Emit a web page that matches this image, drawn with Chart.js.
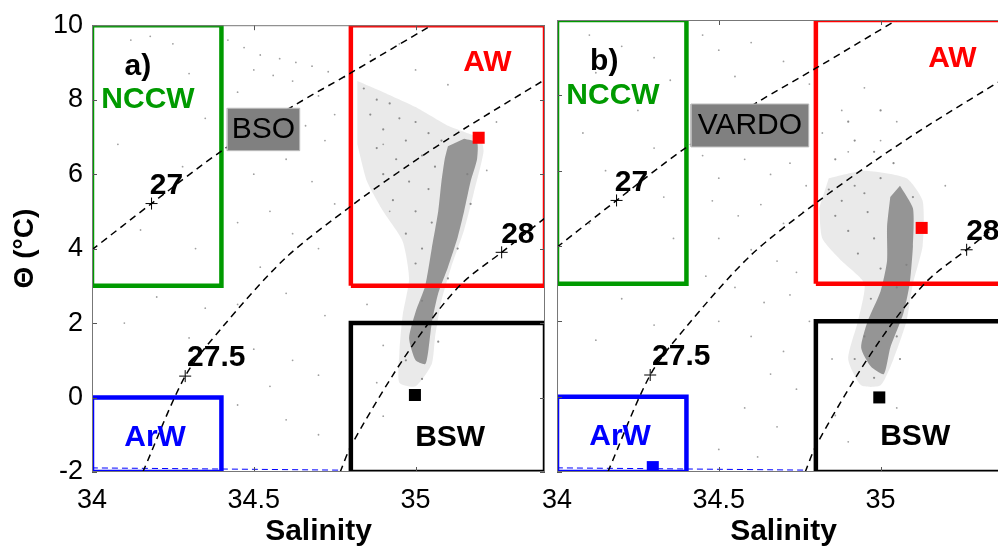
<!DOCTYPE html>
<html>
<head>
<meta charset="utf-8">
<title>Theta-S diagrams BSO / VARDO</title>
<script src="https://cdn.jsdelivr.net/npm/chart.js@4.4.4/dist/chart.umd.min.js"></script>
<style>
  html, body { margin: 0; padding: 0; background: #fff; overflow: hidden; }
  #wrap { position: relative; width: 998px; height: 552px; overflow: hidden; }
  canvas { position: absolute; top: 0; }
  #panelA { left: 0; }
  #panelB { left: 530px; }
</style>
</head>
<body>
<div id="wrap">
  <canvas id="panelA" width="560" height="552"></canvas>
  <canvas id="panelB" width="498" height="552"></canvas>
</div>
<script>
// axes
const xTicks = [34, 34.5, 35];
const yTicks = [-2, 0, 2, 4, 6, 8, 10];

// isopycnals (salinity, theta)
const sigma27 = [[34.0, 3.97], [34.184, 5.21], [34.40, 6.62], [34.62, 7.82], [34.80, 8.72], [35.05, 10.0]];
const sigma275 = [[34.157, -2.0], [34.288, 0.575], [34.40, 1.86], [34.596, 3.73], [34.80, 5.14], [34.98, 6.25], [35.145, 7.19], [35.40, 8.54]];
const sigma28 = [[34.767, -2.0], [34.80, -1.31], [34.926, 0.55], [35.036, 1.95], [35.145, 3.08], [35.266, 3.9], [35.40, 4.82]];
const sigmaMarks = [[34.184, 5.21], [34.288, 0.575], [35.266, 3.9]];
const freezeLine = [[34.0, -1.89], [34.4, -1.92], [34.77, -1.95]];

// water mass boxes: [Smin, Smax, Tmin, Tmax]
const boxNCCW = [34.0, 34.4, 3, 10];
const boxAW = [34.8, 35.4, 3, 10];
const boxBSW = [34.8, 35.4, -2, 2];
const boxArW = [34.0, 34.4, -2, 0];

// station name boxes
const stationBoxA = [34.418, 34.642, 6.63, 7.77];
const stationBoxB = [34.414, 34.778, 6.63, 7.77];

// water mass means
const redSqA = [[35.195, 6.98]];
const blackSqA = [[34.998, 0.07]];
const redSqB = [[35.127, 4.48]];
const blackSqB = [[34.996, -0.02]];
const blueSqB = [[34.296, -1.87]];

// observation cloud, panel a
const coreA = [[35.15, 6.95], [35.19, 6.85], [35.19, 6.4], [35.17, 5.8], [35.15, 5.0], [35.13, 4.3], [35.10, 3.5], [35.07, 2.8], [35.05, 2.0], [35.04, 1.3], [35.03, 0.9],
  [35.0, 1.0], [34.98, 1.6], [35.0, 2.3], [35.03, 3.0], [35.05, 4.0], [35.07, 5.0], [35.08, 5.8], [35.09, 6.4], [35.10, 6.75]];
const haloA = [[34.82, 8.5], [34.9, 8.2], [35.0, 7.8], [35.1, 7.3], [35.2, 6.95], [35.21, 6.6], [35.18, 5.5], [35.15, 4.5], [35.11, 3.5], [35.08, 2.6], [35.06, 1.6], [35.05, 0.9],
  [35.0, 0.3], [34.95, 0.4], [34.95, 1.2], [34.96, 2.2], [34.98, 3.2], [34.96, 4.2], [34.9, 5.0], [34.85, 5.8], [34.82, 6.8]];
const haloPtsA = [[34.84, 8.3], [34.88, 8.0], [34.92, 7.9], [34.86, 7.6], [34.95, 7.5], [34.9, 7.2], [35.0, 7.4], [35.04, 7.1], [34.97, 6.9], [35.08, 6.9],
  [34.88, 6.7], [34.94, 6.4], [35.02, 6.5], [35.06, 6.2], [34.9, 6.0], [34.98, 5.8], [35.04, 5.6], [34.93, 5.3], [35.0, 5.0], [35.05, 4.7],
  [34.97, 4.4], [35.02, 4.0], [35.0, 3.6], [34.99, 3.0], [35.02, 2.6], [34.98, 2.0], [35.07, 1.5], [34.97, 1.0], [35.02, 0.5], [35.16, 6.0],
  [35.17, 5.2], [35.13, 4.0], [35.1, 3.2]];
const sparseA = [[34.42, 9.6], [34.47, 9.4], [34.52, 9.2], [34.58, 9.1], [34.63, 9.0], [34.68, 8.9], [34.73, 8.75], [34.78, 8.6], [34.5, 8.8], [34.56, 8.65],
  [34.62, 8.5], [34.45, 8.2], [34.7, 8.1], [34.75, 7.6], [34.66, 7.3], [34.72, 6.9], [34.6, 6.4], [34.5, 6.0], [34.68, 5.8], [34.75, 5.2],
  [34.55, 5.0], [34.62, 4.4], [34.45, 4.7], [34.7, 4.0], [34.52, 3.5], [34.6, 2.8], [34.45, 2.5], [34.72, 2.2], [34.35, 2.4], [34.2, 2.7],
  [34.1, 2.0], [34.3, 1.6], [34.5, 1.3], [34.62, 1.0], [34.7, 0.6], [34.55, 0.3], [34.45, -0.2], [34.6, -0.6], [34.7, -1.0], [34.9, -0.5],
  [34.88, 0.4], [34.9, 1.4], [34.85, 2.5], [34.12, 9.6], [34.18, 9.7], [34.25, 9.5], [34.3, 8.7], [34.35, 7.5], [34.08, 6.8], [34.28, 6.2],
  [34.15, 4.5], [34.32, 4.0], [34.86, 9.2], [34.95, 9.5], [35.0, 8.8], [35.1, 8.4], [34.92, 5.0], [34.9, 6.8], [35.25, 7.4], [35.22, 6.1]];

// observation cloud, panel b
const coreB = [[35.06, 5.6], [35.10, 5.0], [35.10, 4.0], [35.09, 3.0], [35.07, 2.2], [35.03, 1.3], [35.01, 0.6],
  [34.97, 0.8], [34.94, 1.3], [34.96, 2.0], [35.0, 2.8], [35.02, 3.6], [35.02, 4.5], [35.03, 5.3]];
const haloB = [[34.84, 5.8], [34.95, 6.0], [35.08, 5.8], [35.13, 5.2], [35.13, 4.0], [35.1, 3.0], [35.08, 2.0], [35.04, 1.0], [35.0, 0.3],
  [34.94, 0.3], [34.9, 1.0], [34.93, 2.0], [34.95, 3.0], [34.88, 3.6], [34.82, 4.2], [34.81, 5.0]];
const haloPtsB = [[34.84, 5.5], [34.88, 5.2], [34.92, 5.6], [34.86, 4.8], [34.9, 4.4], [34.96, 4.9], [34.95, 5.4], [35.0, 5.8], [34.98, 4.2], [34.93, 3.8],
  [35.0, 3.4], [34.97, 2.6], [35.05, 2.9], [35.08, 3.5], [35.12, 4.6], [35.1, 5.3], [34.95, 1.6], [34.92, 1.0], [35.05, 1.6], [34.98, 0.5],
  [35.06, 1.0], [34.86, 6.3], [34.92, 6.8], [34.98, 6.5], [35.04, 6.2], [34.9, 7.3], [35.0, 7.6]];
const sparseB = [[34.1, 9.6], [34.2, 9.3], [34.3, 9.0], [34.12, 8.6], [34.35, 8.4], [34.25, 7.6], [34.08, 7.0], [34.3, 6.6], [34.15, 6.0], [34.33, 5.3],
  [34.1, 4.6], [34.36, 4.2], [34.45, 9.6], [34.5, 9.2], [34.6, 9.4], [34.7, 8.9], [34.55, 8.5], [34.78, 8.3], [34.45, 6.4], [34.5, 5.8],
  [34.58, 6.3], [34.66, 5.9], [34.72, 6.2], [34.77, 5.6], [34.48, 5.2], [34.56, 4.8], [34.63, 5.1], [34.7, 4.6], [34.76, 4.9], [34.5, 4.2],
  [34.6, 3.9], [34.68, 3.6], [34.74, 3.3], [34.46, 3.2], [34.55, 2.9], [34.64, 2.5], [34.72, 2.7], [34.78, 2.0], [34.5, 2.0], [34.6, 1.6],
  [34.7, 1.2], [34.66, 0.6], [34.74, 0.2], [34.58, -0.3], [34.68, -0.8], [34.5, -1.4], [34.62, -1.6], [34.2, 2.6], [34.12, 1.5], [34.3, 1.9],
  [34.82, 7.0], [34.88, 7.6], [34.95, 8.2], [34.9, 6.5], [35.0, 6.8], [35.05, 7.3], [34.85, 1.0], [34.86, -0.5], [34.9, -1.2], [35.05, -0.3],
  [35.2, 5.6], [35.16, 3.2]];

// text labels [S, theta, text, colour, bold]
const commonLabels = [
  [34.173, 8.0, 'NCCW', '#009a00', true],
  [35.222, 8.98, 'AW', '#ff0000', true],
  [34.23, 5.69, '27', '#000', true],
  [34.384, 1.07, '27.5', '#000', true],
  [35.316, 4.38, '28', '#000', true],
  [34.195, -1.07, 'ArW', '#0000ff', true],
  [35.107, -1.07, 'BSW', '#000', true]
];
const labelsA = [[34.142, 8.89, 'a)', '#000', true], [34.53, 7.2, 'BSO', '#000', false]].concat(commonLabels);
const labelsB = [[34.146, 8.89, 'b)', '#000', true], [34.596, 7.2, 'VARDO', '#000', false]].concat(commonLabels);

const FONT = '"Liberation Sans", Arial, sans-serif';

function pts(arr) { return arr.map(p => ({ x: p[0], y: p[1] })); }
function rect(b) { return pts([[b[0], b[2]], [b[1], b[2]], [b[1], b[3]], [b[0], b[3]], [b[0], b[2]]]); }

function lineSet(data, color, width, dash, order) {
  return { data: pts(data), showLine: true, borderColor: color, borderWidth: width, borderDash: dash || [],
    pointRadius: 0, fill: false, order: order, tension: 0.3 };
}
function boxSet(b, color, order) {
  return { data: rect(b), showLine: true, borderColor: color, borderWidth: 4.5, pointRadius: 0,
    fill: false, order: order, tension: 0, borderJoinStyle: 'miter' };
}
function shapeSet(data, fillColor, order) {
  return { data: pts(data), showLine: true, borderWidth: 0, borderColor: 'rgba(0,0,0,0)', backgroundColor: fillColor,
    pointRadius: 0, fill: 'shape', order: order, tension: 0.2 };
}
function dotSet(data, color, r, order) {
  return { data: pts(data), pointRadius: r, backgroundColor: color, borderWidth: 0, order: order };
}
function squareSet(data, color, order) {
  return { data: pts(data), pointStyle: 'rect', pointRadius: 8.5, backgroundColor: color, borderColor: color,
    borderWidth: 0, order: order };
}

function datasetsFor(core, halo, haloPts, sparse, stationBox, squares) {
  const sets = [
    shapeSet(halo, 'rgba(150,150,150,0.20)', 21),
    dotSet(haloPts, '#8c8c8c', 1.1, 20),
    shapeSet(core, 'rgba(128,128,128,0.80)', 19),
    dotSet(sparse, '#a0a0a0', 0.9, 18),
    lineSet(freezeLine, '#0000ff', 1, [6, 4], 15),
    boxSet(boxNCCW, '#009a00', 14),
    boxSet(boxAW, '#ff0000', 13),
    boxSet(boxBSW, '#000000', 12),
    boxSet(boxArW, '#0000ff', 11),
    lineSet(sigma27, '#000', 1.5, [7, 5], 9),
    lineSet(sigma275, '#000', 1.5, [7, 5], 8),
    lineSet(sigma28, '#000', 1.5, [7, 5], 7),
    { data: pts(sigmaMarks), pointStyle: 'cross', pointRadius: 6, borderColor: '#000', borderWidth: 1, order: 6 },
    { data: rect(stationBox), showLine: true, borderColor: '#bdbdbd', borderWidth: 1, backgroundColor: '#808080',
      pointRadius: 0, fill: 'shape', order: 5, tension: 0 }
  ];
  squares.forEach((s, i) => sets.push(squareSet(s[0], s[1], 2 + i)));
  return sets;
}

const framePlugin = {
  id: 'frame',
  afterDraw(chart) {
    const { ctx, chartArea: a, scales: { x, y } } = chart;
    ctx.save();
    ctx.strokeStyle = '#555';
    ctx.lineWidth = 1;
    ctx.beginPath();
    xTicks.forEach(v => {
      const px = Math.round(x.getPixelForValue(v)) + 0.5;
      ctx.moveTo(px, a.bottom); ctx.lineTo(px, a.bottom - 5);
      ctx.moveTo(px, a.top); ctx.lineTo(px, a.top + 5);
    });
    yTicks.forEach(v => {
      const py = Math.round(y.getPixelForValue(v)) + 0.5;
      ctx.moveTo(a.left, py); ctx.lineTo(a.left + 5, py);
      ctx.moveTo(a.right, py); ctx.lineTo(a.right - 5, py);
    });
    ctx.stroke();
    ctx.strokeStyle = '#777';
    ctx.strokeRect(a.left + 0.5, a.top + 0.5, a.width - 1, a.height - 1);

    const labels = chart.options.plugins.frame.labels || [];
    ctx.textAlign = 'center';
    ctx.textBaseline = 'middle';
    labels.forEach(l => {
      ctx.font = (l[4] ? 'bold ' : '') + '30px ' + FONT;
      ctx.fillStyle = l[3];
      ctx.fillText(l[2], x.getPixelForValue(l[0]), y.getPixelForValue(l[1]));
    });
    ctx.restore();
  }
};

function optionsFor(showY, labels, rightPad) {
  return {
    responsive: false,
    animation: false,
    events: [],
    layout: { padding: { top: 20, right: rightPad, bottom: 0, left: 0 } },
    plugins: { legend: { display: false }, tooltip: { enabled: false }, frame: { labels: labels } },
    scales: {
      x: {
        type: 'linear', min: 34, max: 35.4,
        afterBuildTicks: s => { s.ticks = xTicks.map(v => ({ value: v })); },
        afterFit: s => { s.height = 80; },
        grid: { display: false, drawTicks: false },
        border: { display: false },
        ticks: { color: '#000', font: { family: FONT, size: 27 }, padding: 12, maxRotation: 0, autoSkip: false,
          callback: v => String(v) },
        title: { display: true, text: 'Salinity', color: '#000', font: { family: FONT, size: 30, weight: 'bold' },
          padding: { top: 0, bottom: 2 } }
      },
      y: {
        type: 'linear', min: -2, max: 10,
        afterBuildTicks: s => { s.ticks = yTicks.map(v => ({ value: v })); },
        afterFit: s => { s.width = showY ? 92 : 27; },
        grid: { display: false, drawTicks: false },
        border: { display: false },
        ticks: { display: showY, color: '#000', font: { family: FONT, size: 27 }, padding: 9, callback: v => String(v) },
        title: { display: showY, text: 'Θ (°C)', color: '#000', font: { family: FONT, size: 28, weight: 'bold' },
          padding: { top: 8, bottom: 0 } }
      }
    }
  };
}

new Chart(document.getElementById('panelA'), {
  type: 'scatter',
  data: { datasets: datasetsFor(coreA, haloA, haloPtsA, sparseA, stationBoxA, [[redSqA, '#ff0000'], [blackSqA, '#000']]) },
  options: optionsFor(true, labelsA, 15),
  plugins: [framePlugin]
});

new Chart(document.getElementById('panelB'), {
  type: 'scatter',
  data: { datasets: datasetsFor(coreB, haloB, haloPtsB, sparseB, stationBoxB, [[redSqB, '#ff0000'], [blackSqB, '#000'], [blueSqB, '#0000ff']]) },
  options: optionsFor(false, labelsB, 18),
  plugins: [framePlugin]
});
</script>
</body>
</html>
